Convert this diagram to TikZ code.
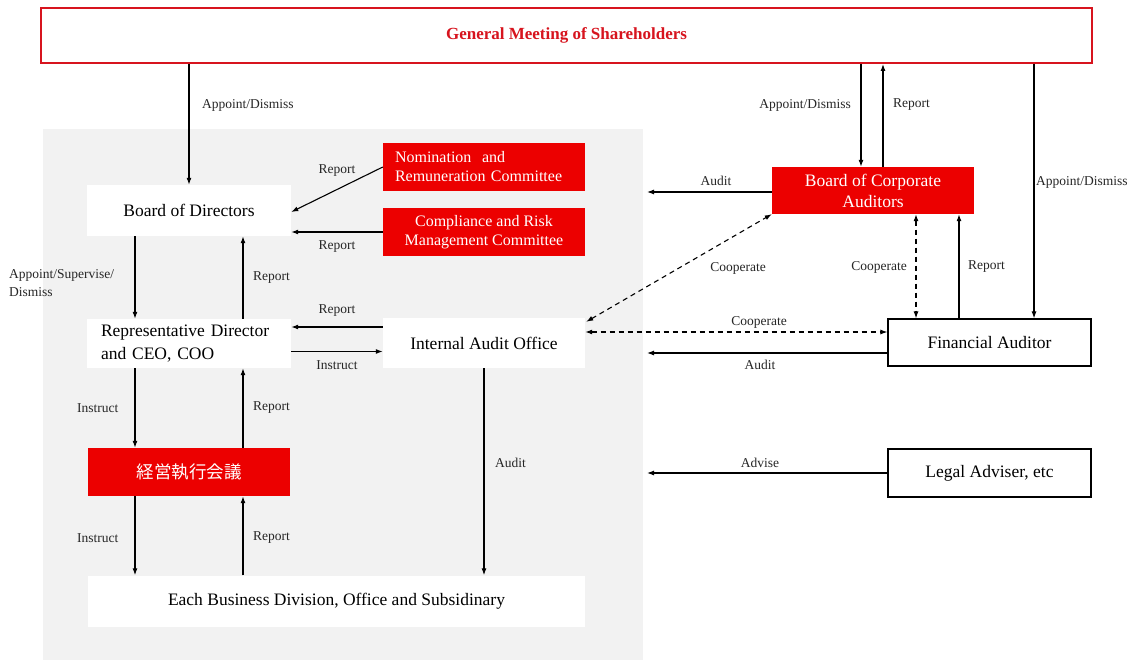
\documentclass[tikz,border=0pt]{standalone}
\usepackage{fontspec}
\setmainfont{Liberation Serif}
\newfontfamily\cjk{Noto Sans CJK JP}
\usetikzlibrary{arrows.meta}
\definecolor{cred}{RGB}{236,0,0}
\definecolor{gmred}{RGB}{215,20,30}
\definecolor{bggrey}{RGB}{242,242,242}
\tikzset{
  boxtext/.style={font=\fontsize{17.5}{21}\selectfont, inner sep=0pt},
  whitebox/.style={boxtext, fill=white, draw=none},
  redbox/.style={boxtext, fill=cred, text=white, draw=none},
  framebox/.style={boxtext, fill=white, draw=black, line width=1.2pt},
  lbl/.style={font=\fontsize{13.5}{18}\selectfont, inner sep=0pt, text=black!85},
  arr/.style={-{Latex[length=7pt,width=5pt]}, line width=1.1pt},
  darr/.style={{Latex[length=7pt,width=5pt]}-{Latex[length=7pt,width=5pt]}, line width=1.1pt, dash pattern=on 5pt off 4pt}
}
\begin{document}
\begin{tikzpicture}[x=1pt,y=-1pt]
\useasboundingbox (0,0) rectangle (1142,660);
\fill[white] (0,0) rectangle (1142,660);
% grey area
\fill[bggrey] (43,129) rectangle (643,660);

% nodes
\node[draw=gmred, line width=2pt, fill=white, minimum width=1051pt, minimum height=55pt,
      font=\bfseries\fontsize{17}{20}\selectfont, text=gmred] (gm) at (566.5,35.5) {General Meeting of Shareholders};
\node[whitebox, minimum width=204pt, minimum height=51pt] (bod) at (189,210.5) {Board of Directors};
\node[redbox, minimum width=202pt, minimum height=48pt, text width=178pt, inner xsep=12pt, align=left,
      font=\fontsize{16}{19}\selectfont] (nrc) at (484,167) {Nomination\ \ and\\Remuneration Committee};
\node[redbox, minimum width=202pt, minimum height=48pt, align=center,
      font=\fontsize{16}{19}\selectfont] (crm) at (484,232) {Compliance and Risk\\Management Committee};
\node[whitebox, minimum width=204pt, minimum height=49pt, text width=176pt, inner xsep=14pt, align=left,
      font=\fontsize{17.5}{23}\selectfont] (rep) at (189,343.5) {Representative Director\\and CEO, COO};
\node[whitebox, minimum width=202pt, minimum height=50pt] (iao) at (484,343) {Internal Audit Office};
\node[redbox, minimum width=202pt, minimum height=48pt, font=\cjk\fontsize{17.5}{21}\selectfont] (keg) at (189,472) {経営執行会議};
\node[whitebox, minimum width=497pt, minimum height=51pt] (ebd) at (336.5,601) {Each Business Division, Office and Subsidinary};
\node[redbox, minimum width=202pt, minimum height=47pt, align=center] (bca) at (873,190.5) {Board of Corporate\\Auditors};
\node[framebox, minimum width=203pt, minimum height=47pt] (fa) at (989.5,342.5) {Financial Auditor};
\node[framebox, minimum width=203pt, minimum height=48pt] (la) at (989.5,473) {Legal Adviser, etc};

% free ends
\coordinate (c1) at (647,192);
\coordinate (c2) at (647,353);
\coordinate (c3) at (647,473);

% connectors
\draw[arr] (gm.south -| bod.north) -- (bod.north);
\draw[arr] ([xshift=-54pt]bod.south) -- ([xshift=-54pt]rep.north);
\draw[arr] ([xshift=54pt]rep.north) -- ([xshift=54pt]bod.south);
\draw[arr] (nrc.west) -- ([yshift=-1.5pt]bod.east);
\draw[arr] (crm.west) -- (crm.west -| bod.east);
\draw[arr] ([yshift=16pt]iao.west) -- ([yshift=16pt]iao.west -| rep.east);
\draw[arr] ([yshift=-8pt]rep.east) -- ([yshift=-8pt]rep.east -| iao.west);
\draw[arr] ([xshift=-54pt]rep.south) -- ([xshift=-54pt]keg.north);
\draw[arr] ([xshift=54pt]keg.north) -- ([xshift=54pt]rep.south);
\draw[arr] ([xshift=-54pt]keg.south) -- ([xshift=-54pt]keg.south |- ebd.north);
\draw[arr] ([xshift=54pt]keg.south |- ebd.north) -- ([xshift=54pt]keg.south);
\draw[arr] (iao.south) -- (iao.south |- ebd.north);

\draw[arr] ([xshift=-12pt]bca.north |- gm.south) -- ([xshift=-12pt]bca.north);
\draw[arr] ([xshift=10pt]bca.north) -- ([xshift=10pt]bca.north |- gm.south);
\draw[arr] ([xshift=44.5pt]fa.north |- gm.south) -- ([xshift=44.5pt]fa.north);
\draw[arr] ([yshift=-1.5pt]bca.west) -- (c1);
\draw[arr] ([xshift=-30.5pt]fa.north) -- ([xshift=-30.5pt]fa.north |- bca.south);
\draw[darr] ([xshift=-73.5pt]fa.north |- bca.south) -- ([xshift=-73.5pt]fa.north);
\draw[darr] ([shift={(1pt,-4pt)}]iao.north east) -- (bca.south west);
\draw[darr] ([yshift=11pt]iao.east) -- ([yshift=11pt]iao.east -| fa.west);
\draw[arr] ([yshift=-10.5pt]fa.west) -- (c2);
\draw[arr] (la.west) -- (c3);

% labels
\node[lbl, anchor=west] (l1) at (202,105) {Appoint/Dismiss};
\node[lbl, anchor=east] (l2) at (851,105) {Appoint/Dismiss};
\node[lbl, anchor=west] (l3) at (893,105) {Report};
\node[lbl, anchor=west] (l4) at (1036,182) {Appoint/Dismiss};
\node[lbl] (l5) at (337,171) {Report};
\node[lbl] (l6) at (337,247) {Report};
\node[lbl, anchor=west, align=left] (l7) at (9,283) {Appoint/Supervise/\\Dismiss};
\node[lbl, anchor=west] (l8) at (253,278) {Report};
\node[lbl] (l9) at (337,311) {Report};
\node[lbl] (l10) at (337,365) {Instruct};
\node[lbl, anchor=west] (l11) at (77,408) {Instruct};
\node[lbl, anchor=west] (l12) at (253,408) {Report};
\node[lbl, anchor=west] (l13) at (77,538) {Instruct};
\node[lbl, anchor=west] (l14) at (253,538) {Report};
\node[lbl, anchor=west] (l15) at (495,463) {Audit};
\node[lbl] (l16) at (716,181) {Audit};
\node[lbl] (l17) at (738,268) {Cooperate};
\node[lbl, anchor=east] (l18) at (907,267) {Cooperate};
\node[lbl, anchor=west] (l19) at (968,267) {Report};
\node[lbl] (l20) at (759,322) {Cooperate};
\node[lbl] (l21) at (760,365) {Audit};
\node[lbl] (l22) at (760,463) {Advise};
\end{tikzpicture}
\end{document}
